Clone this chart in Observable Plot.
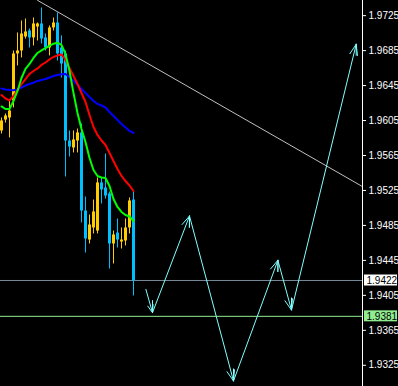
<!DOCTYPE html>
<html><head><meta charset="utf-8">
<script src="https://cdn.jsdelivr.net/npm/d3@7"></script>
<script src="https://cdn.jsdelivr.net/npm/@observablehq/plot@0.6"></script>
<style>html,body{margin:0;padding:0;background:#000;overflow:hidden}</style>
</head><body><div id="chart"></div>
<script>
// Candles (bar index 0..33)
const opens  = [1.95931,1.96056,1.96079,1.96274,1.96812,1.96846,1.97006,1.97075,1.96995,1.97120,1.97155,1.96995,1.96880,1.97109,1.97166,1.96880,1.96812,1.95816,1.95736,1.95816,1.95908,1.95015,1.94683,1.94821,1.94786,1.95336,1.95278,1.95210,1.94638,1.94763,1.94660,1.94672,1.94821,1.95141];
const highs  = [1.96079,1.96125,1.96274,1.96846,1.97052,1.97189,1.97212,1.97098,1.97223,1.97166,1.97338,1.97040,1.97132,1.97223,1.97281,1.97018,1.96846,1.95931,1.95931,1.95953,1.96011,1.95175,1.94969,1.95141,1.95393,1.95393,1.95667,1.95233,1.94786,1.94924,1.94821,1.94924,1.95164,1.95244];
const lows   = [1.95896,1.96022,1.95851,1.96194,1.96674,1.96766,1.96983,1.96880,1.96903,1.96960,1.96926,1.96846,1.96789,1.97075,1.96731,1.96537,1.95404,1.95633,1.95679,1.95679,1.94878,1.94534,1.94638,1.94752,1.94752,1.95095,1.95152,1.94352,1.94409,1.94592,1.94580,1.94615,1.94752,1.94043];
const closes = [1.96045,1.96102,1.96159,1.96812,1.96846,1.97040,1.97063,1.96995,1.97155,1.97155,1.96983,1.96880,1.97109,1.97166,1.96812,1.96697,1.95816,1.95747,1.95828,1.95908,1.95015,1.94695,1.94855,1.95004,1.95336,1.95256,1.95187,1.94638,1.94741,1.94683,1.94683,1.94821,1.95130,1.94214];

// Moving averages
const maGreen = [1.96211,1.96182,1.96182,1.96274,1.96388,1.96537,1.96640,1.96697,1.96766,1.96823,1.96852,1.96880,1.96903,1.96929,1.96941,1.96915,1.96812,1.96617,1.96365,1.96136,1.95953,1.95805,1.95622,1.95484,1.95416,1.95398,1.95393,1.95301,1.95152,1.95061,1.95004,1.94969,1.94952,1.94901];
const maRed   = [1.96342,1.96302,1.96280,1.96331,1.96400,1.96468,1.96525,1.96583,1.96617,1.96646,1.96686,1.96714,1.96749,1.96777,1.96794,1.96806,1.96743,1.96651,1.96560,1.96468,1.96365,1.96262,1.96114,1.95976,1.95885,1.95822,1.95770,1.95679,1.95587,1.95496,1.95416,1.95358,1.95307,1.95244];
const maBlue  = [1.96417,1.96405,1.96400,1.96396,1.96408,1.96428,1.96451,1.96468,1.96483,1.96503,1.96514,1.96525,1.96543,1.96560,1.96571,1.96579,1.96583,1.96548,1.96503,1.96457,1.96411,1.96365,1.96320,1.96274,1.96240,1.96222,1.96199,1.96148,1.96102,1.96056,1.96011,1.95971,1.95931,1.95908];

// Projected zigzag path
const projIdx   = [36.1, 37.75, 47.0, 58.0, 69.1, 72.5, 88.675];
const projPrice = [1.94119, 1.93852, 1.94958, 1.93070, 1.94451, 1.93882, 1.96923];

// Trend line anchors
const trendIdx   = [9, 90];
const trendPrice = [1.97425, 1.95301];

// Horizontal levels
const levelPrices = [1.9422, 1.9381];
const levelColors = ["#778899", "#90ee90"];
const levelBoxColors = ["#ffffff", "#90ee90"];

// Axis ticks
const tickValues = [1.9725, 1.9685, 1.9645, 1.9605, 1.9565, 1.9525, 1.9485, 1.9445, 1.9405, 1.9365, 1.9325];

const W = 398, H = 386, MR = 36;
const xDomain = [-0.25, 90.25];
const yTop = 1.974233, ySpan = 0.04416;
const yDomain = [yTop - ySpan, yTop];
const pxPerIdx = (W - MR) / (xDomain[1] - xDomain[0]);
const pxPerPrice = H / ySpan;

const bull = "#ffcc00", bear = "#00bfff";
const bars = opens.map((o, i) => ({i, o, h: highs[i], l: lows[i], c: closes[i], col: closes[i] >= o ? bull : bear}));
const ma = (arr) => arr.map((v, i) => ({i, v}));
const segs = projIdx.slice(1).map((x, k) => ({x1: projIdx[k], y1: projPrice[k], x2: x, y2: projPrice[k + 1]}));
const stemLen = 12 / pxPerPrice;
const stems = projIdx.slice(1).map((x, k) => {
  const p = projPrice[k + 1], prev = projPrice[k];
  return {i: x, p, q: p + Math.sign(prev - p) * stemLen};
});
const trend = trendIdx.map((x, k) => ({x, y: trendPrice[k]}));
const levels = levelPrices.map((p, k) => ({p, stroke: levelColors[k], box: levelBoxColors[k]}));
const boxH = 11 / pxPerPrice;

const chart = Plot.plot({
  width: W, height: H,
  marginLeft: 0, marginRight: MR, marginTop: 0, marginBottom: 0,
  style: {background: "#000", color: "#fff", fontSize: "10px", fontFamily: "'Liberation Sans', Arial, sans-serif"},
  x: {domain: xDomain, axis: null},
  y: {domain: yDomain, axis: "right", ticks: tickValues, tickFormat: d3.format(".4f"), tickSize: 3, tickPadding: 3, label: null},
  color: {type: "identity"},
  marks: [
    Plot.line(trend, {x: "x", y: "y", stroke: "#c0c0c0", strokeWidth: 1, clip: true}),
    Plot.ruleY(levels, {y: "p", stroke: "stroke", strokeWidth: 1}),
    Plot.ruleX(bars, {x: "i", y1: "l", y2: "h", stroke: "col", strokeWidth: 1}),
    Plot.ruleX(bars, {x: "i", y1: "o", y2: "c", stroke: "col", strokeWidth: 3}),
    Plot.line(ma(maBlue), {x: "i", y: "v", stroke: "#0000ff", strokeWidth: 2}),
    Plot.line(ma(maRed), {x: "i", y: "v", stroke: "#ff0000", strokeWidth: 2}),
    Plot.line(ma(maGreen), {x: "i", y: "v", stroke: "#00ff00", strokeWidth: 2}),
    Plot.arrow(segs, {x1: "x1", y1: "y1", x2: "x2", y2: "y2", stroke: "#80ffff", strokeWidth: 1, headLength: 17, headAngle: 40}),
    Plot.ruleX(stems, {x: "i", y1: "p", y2: "q", stroke: "#80ffff", strokeWidth: 1}),
    Plot.ruleX([xDomain[1]], {stroke: "#fff", strokeWidth: 1}),
    Plot.rect(levels, {
      x1: () => xDomain[1] + 2 / pxPerIdx, x2: () => xDomain[1] + 35 / pxPerIdx,
      y1: d => d.p - boxH / 2, y2: d => d.p + boxH / 2, fill: "box"
    }),
    Plot.text(levels, {x: () => xDomain[1], y: "p", text: d => d.p.toFixed(4), dx: 4, textAnchor: "start", fill: "#000", fontSize: 10})
  ]
});
document.getElementById("chart").appendChild(chart);
</script>
</body></html>
